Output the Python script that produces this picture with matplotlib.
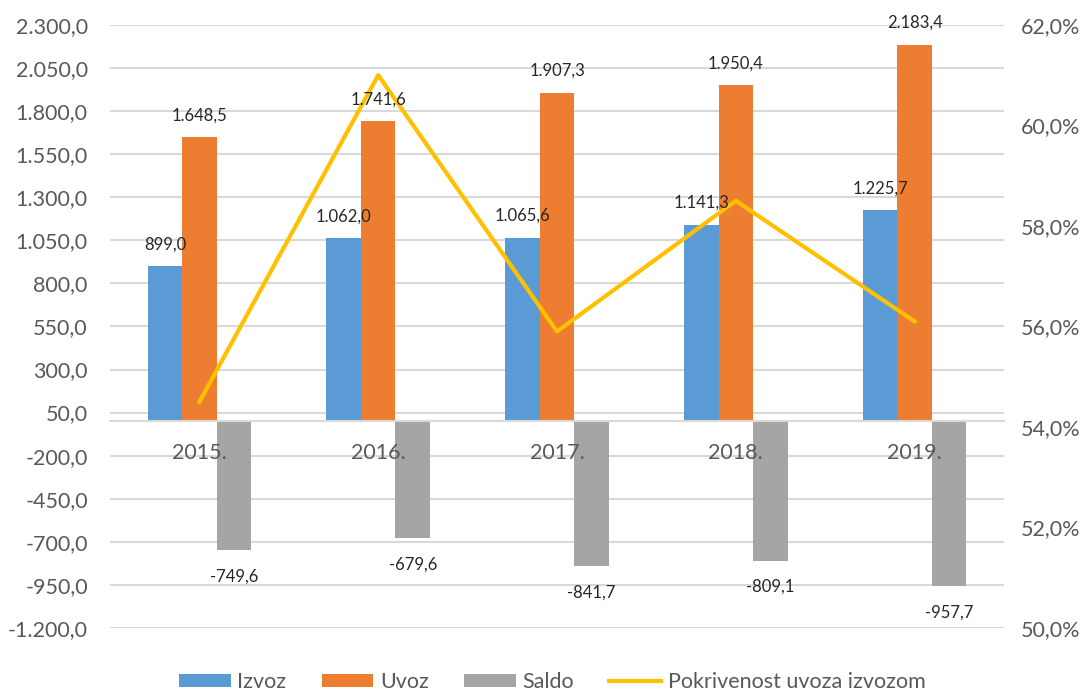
import numpy as np
import matplotlib.pyplot as plt
from matplotlib.ticker import FuncFormatter, FixedLocator

godine = ['2015.', '2016.', '2017.', '2018.', '2019.']
izvoz = [899.0, 1062.0, 1065.6, 1141.3, 1225.7]
uvoz = [1648.5, 1741.6, 1907.3, 1950.4, 2183.4]
saldo = [-749.6, -679.6, -841.7, -809.1, -957.7]
pokrivenost = [54.5, 61.0, 55.9, 58.5, 56.1]

plt.rcParams['font.family'] = ['Lato', 'DejaVu Sans']

def hr(v, dec=1):
    s = f"{v:,.{dec}f}"
    return s.replace(',', 'X').replace('.', ',').replace('X', '.')

siva = '#595959'
grid_c = '#D9D9D9'
fs = 15.5

fig = plt.figure(figsize=(10.89, 6.90), dpi=100)
ax = fig.add_axes([0.101, 0.0899, 0.821, 0.874])
ax2 = ax.twinx()

x = np.arange(len(godine))
w = 0.193
b1 = ax.bar(x - w, izvoz, w, color='#5B9BD5', label='Izvoz', zorder=2)
b2 = ax.bar(x, uvoz, w, color='#ED7D31', label='Uvoz', zorder=2)
b3 = ax.bar(x + w, saldo, w, color='#A5A5A5', label='Saldo', zorder=2)

ax.set_xlim(-0.5, len(godine) - 0.5)
ax.set_ylim(-1200, 2300)
ax.yaxis.set_major_locator(FixedLocator(np.arange(-1200, 2301, 250)))
ax.yaxis.set_major_formatter(FuncFormatter(lambda v, p: hr(v)))
ax.grid(axis='y', color=grid_c, linewidth=1.5, zorder=0)
ax.set_axisbelow(True)
ax.tick_params(axis='y', length=0, labelsize=fs, labelcolor=siva, pad=16)

ax.set_xticks(x)
ax.set_xticklabels(godine)
ax.tick_params(axis='x', length=0, labelsize=fs, labelcolor=siva, pad=16)
ax.xaxis.set_zorder(5)
ax.spines['bottom'].set_position(('data', 0))
ax.spines['bottom'].set_color(grid_c)
ax.spines['bottom'].set_linewidth(1.5)
for s in ['top', 'left', 'right']:
    ax.spines[s].set_visible(False)
for s in ['top', 'left', 'right', 'bottom']:
    ax2.spines[s].set_visible(False)

ln, = ax2.plot(x, pokrivenost, color='#FFC000', linewidth=3.0,
               label='Pokrivenost uvoza izvozom', zorder=3)
ax2.set_ylim(50, 62)
ax2.set_yticks(np.arange(50, 62.1, 2))
ax2.yaxis.set_major_formatter(FuncFormatter(lambda v, p: hr(v) + '%'))
ax2.tick_params(axis='y', length=0, labelsize=fs, labelcolor=siva, pad=12)

# oznake podataka iznad linije
for bars, vals in [(b1, izvoz), (b2, uvoz)]:
    for r, v in zip(bars, vals):
        ax2.annotate(hr(v), (r.get_x() + r.get_width() / 2, v), xycoords=ax.transData,
                     xytext=(0, 10), textcoords='offset points', ha='center', va='bottom',
                     fontsize=12, color='#262626', zorder=5)
for r, v in zip(b3, saldo):
    ax2.annotate(hr(v), (r.get_x() + r.get_width() / 2, v), xycoords=ax.transData,
                 xytext=(0, -13), textcoords='offset points', ha='center', va='top',
                 fontsize=12, color='#262626', zorder=5)

fig.legend(handles=[b1, b2, b3, ln], loc='lower center', ncol=4,
           bbox_to_anchor=(0.507, -0.031), frameon=False, fontsize=fs,
           labelcolor=siva, handlelength=2.4, handleheight=0.6,
           columnspacing=1.65, handletextpad=0.3)

fig.savefig('out.png', dpi=100)
